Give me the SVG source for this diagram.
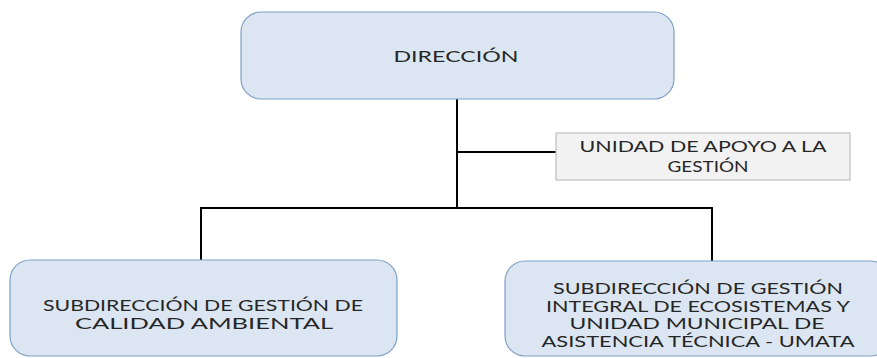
<svg xmlns="http://www.w3.org/2000/svg" width="877" height="358" viewBox="0 0 877 358">
<style>
.blue{fill:#dce6f2;stroke:#7f9fc4;stroke-width:1.2}
.grey{fill:#f2f2f2;stroke:#bfbfbf;stroke-width:1.2}
.t{font-family:Lato,"Open Sans","Liberation Sans",sans-serif;font-size:14.5px;fill:#262626;text-anchor:middle}
.c{stroke:#000;fill:none;stroke-width:2}
</style>
<rect width="877" height="358" fill="#fff"/>
<g id="connectors">
<line class="c" x1="457" y1="99" x2="457" y2="208" stroke-width="2.5"/>
<line class="c" x1="457" y1="152" x2="556" y2="152" stroke-width="1.5"/>
<polyline class="c" points="201,260 201,208 712,208 712,261"/>
</g>
<g id="direccion">
<rect class="blue" x="241" y="12" width="433" height="87" rx="20"/>
<text class="t" x="456" y="62" textLength="125" lengthAdjust="spacingAndGlyphs">DIRECCIÓN</text>
</g>
<g id="unidad-apoyo">
<rect class="grey" x="556" y="133" width="294" height="47"/>
<text class="t" x="703" y="151.5" textLength="247" lengthAdjust="spacingAndGlyphs">UNIDAD DE APOYO A LA</text>
<text class="t" x="708" y="171.5" textLength="81" lengthAdjust="spacingAndGlyphs">GESTIÓN</text>
</g>
<g id="calidad-ambiental">
<rect class="blue" x="10" y="260" width="387" height="96" rx="20"/>
<text class="t" x="203" y="311" textLength="320" lengthAdjust="spacingAndGlyphs">SUBDIRECCIÓN DE GESTIÓN DE</text>
<text class="t" x="204" y="329" textLength="258" lengthAdjust="spacingAndGlyphs">CALIDAD AMBIENTAL</text>
</g>
<g id="ecosistemas-umata">
<rect class="blue" x="505" y="261" width="385" height="95" rx="20"/>
<text class="t" x="698" y="294" textLength="290" lengthAdjust="spacingAndGlyphs">SUBDIRECCIÓN DE GESTIÓN</text>
<text class="t" x="698" y="311.5" textLength="304" lengthAdjust="spacingAndGlyphs">INTEGRAL DE ECOSISTEMAS Y</text>
<text class="t" x="697" y="328.5" textLength="255" lengthAdjust="spacingAndGlyphs">UNIDAD MUNICIPAL DE</text>
<text class="t" x="698" y="346.5" textLength="313" lengthAdjust="spacingAndGlyphs">ASISTENCIA TÉCNICA - UMATA</text>
</g>
</svg>
